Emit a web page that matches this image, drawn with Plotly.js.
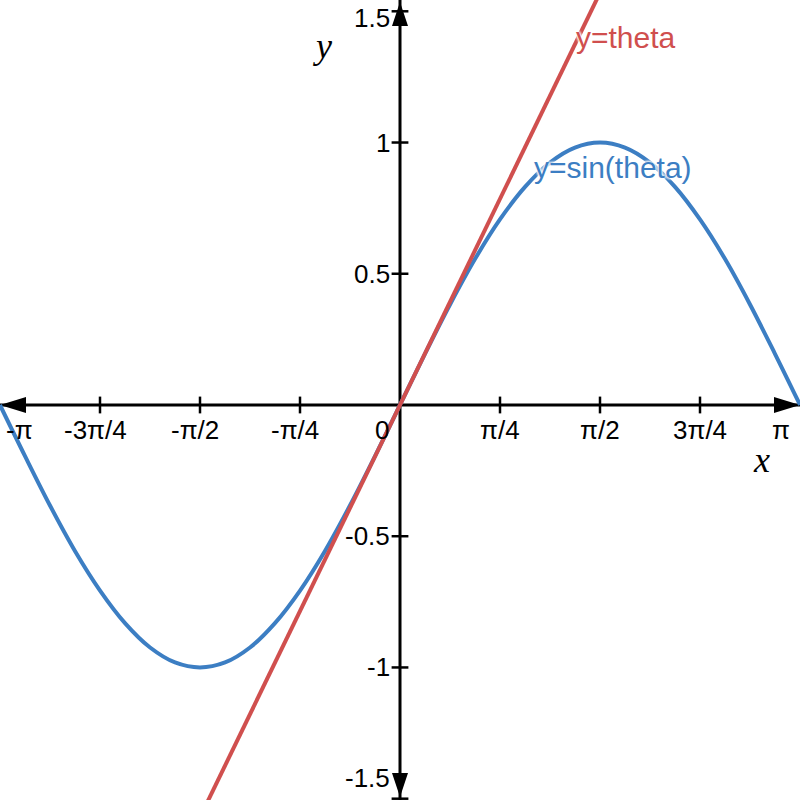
<!DOCTYPE html>
<html>
<head>
<meta charset="utf-8">
<script src="https://cdn.plot.ly/plotly-3.0.1.min.js"></script>
<style>html,body{margin:0;padding:0;background:#fff;}#chart{width:800px;height:800px;}</style>
</head>
<body>
<div id="chart"></div>
<script>
// theta samples (radians) and sin(theta) values
const thetaVals = [-3.142,-2.945,-2.749,-2.553,-2.356,-2.160,-1.963,-1.767,-1.571,-1.374,-1.178,-0.982,-0.785,-0.589,-0.393,-0.196,0,
                   0.196,0.393,0.589,0.785,0.982,1.178,1.374,1.571,1.767,1.963,2.160,2.356,2.553,2.749,2.945,3.142];
const sinVals = [0,-0.195,-0.383,-0.556,-0.707,-0.831,-0.924,-0.981,-1.0,-0.981,-0.924,-0.831,-0.707,-0.556,-0.383,-0.195,0,
                 0.195,0.383,0.556,0.707,0.831,0.924,0.981,1.0,0.981,0.924,0.831,0.707,0.556,0.383,0.195,0];
// y = theta line endpoints
const lineX = [-1.6, 1.6];
const lineY = [-1.6, 1.6];

// axis ranges
const xRange = [-3.1416, 3.1416];
const yRange = [-1.505, 1.543];

// tick values and labels
const xTickVals = [-3.1416,-2.3562,-1.5708,-0.7854,0,0.7854,1.5708,2.3562,3.1416];
const xTickText = ['-π','-3π/4','-π/2','-π/4','0','π/4','π/2','3π/4','π'];
const yTickVals = [-1.5,-1,-0.5,0.5,1,1.5];
const yTickText = ['-1.5','-1','-0.5','0.5','1','1.5'];

const seriesNames = ['y=theta','y=sin(theta)'];
const red = '#d04f4e';
const blue = '#3c7ec3';
const axisColor = '#000';
const font = 'Liberation Sans, Arial, sans-serif';

const xTickMarks = xTickVals.filter(v => v !== 0 && Math.abs(v) < 3);
const yTickMarks = yTickVals;

const traces = [
  {x: xTickMarks, y: xTickMarks.map(() => 0), mode: 'markers', type: 'scatter', hoverinfo: 'skip',
   marker: {symbol: 'line-ns', size: 12, line: {width: 2.5, color: axisColor}}},
  {x: yTickMarks.map(() => 0), y: yTickMarks, mode: 'markers', type: 'scatter', hoverinfo: 'skip',
   marker: {symbol: 'line-ew', size: 12, line: {width: 2.5, color: axisColor}}},
  {x: thetaVals, y: sinVals, mode: 'lines', type: 'scatter', name: seriesNames[1],
   line: {color: blue, width: 4, shape: 'spline'}},
  {x: lineX, y: lineY, mode: 'lines', type: 'scatter', name: seriesNames[0],
   line: {color: red, width: 4}}
];

const annotations = [];
xTickVals.forEach((v, i) => {
  const t = xTickText[i];
  const a = {x: v, y: 0, xref: 'x', yref: 'y', text: t, showarrow: false,
    font: {family: font, size: 26, color: '#000'}, yanchor: 'middle', yshift: -25, xanchor: 'center', xshift: 0};
  if (i === 0) { a.xanchor = 'left'; a.xshift = 4; }
  else if (i === xTickVals.length - 1) { a.xanchor = 'right'; a.xshift = -8; }
  else if (v === 0) { a.xanchor = 'right'; a.xshift = -9; }
  else if (v < 0) { a.xshift = -5; }
  annotations.push(a);
});
yTickVals.forEach((v, i) => {
  const a = {x: 0, y: v, xref: 'x', yref: 'y', text: yTickText[i], showarrow: false,
    font: {family: font, size: 26, color: '#000'}, xanchor: 'right', xshift: -8, yanchor: 'middle', yshift: 0};
  if (v === 1.5) a.yshift = -7;
  if (v === -1.5) a.yshift = 21;
  annotations.push(a);
});
// axis titles
annotations.push({xref: 'paper', yref: 'paper', x: 322/800, y: 1 - 46/800, text: 'y', showarrow: false,
  xanchor: 'center', yanchor: 'middle', font: {family: 'Liberation Serif, Times New Roman, serif', size: 36, style: 'italic', color: '#000'}});
annotations.push({xref: 'paper', yref: 'paper', x: 761/800, y: 1 - 460/800, text: 'x', showarrow: false,
  xanchor: 'center', yanchor: 'middle', font: {family: 'Liberation Serif, Times New Roman, serif', size: 36, style: 'italic', color: '#000'}});
// curve labels
const halo = '0 0 3px #fff, 0 0 3px #fff, 0 0 3px #fff, 0 0 3px #fff';
annotations.push({xref: 'paper', yref: 'paper', x: 574/800, y: 1 - 38/800, text: seriesNames[0], showarrow: false,
  xanchor: 'left', yanchor: 'middle', font: {family: font, size: 30, color: red, shadow: halo}});
annotations.push({xref: 'paper', yref: 'paper', x: 532/800, y: 1 - 168/800, text: seriesNames[1], showarrow: false,
  xanchor: 'left', yanchor: 'middle', font: {family: font, size: 30, color: blue, shadow: halo}});

const shapes = [
  {type: 'line', xref: 'x', yref: 'y', x0: xRange[0], x1: xRange[1], y0: 0, y1: 0, layer: 'below', line: {color: axisColor, width: 3}},
  {type: 'line', xref: 'x', yref: 'y', x0: 0, x1: 0, y0: yRange[0], y1: yRange[1], layer: 'below', line: {color: axisColor, width: 3}},
  {type: 'path', xref: 'x', yref: 'y', xsizemode: 'pixel', ysizemode: 'pixel', xanchor: xRange[0], yanchor: 0,
   path: 'M0,0 L26,8 L26,-8 Z', fillcolor: axisColor, line: {width: 0}, layer: 'below'},
  {type: 'path', xref: 'x', yref: 'y', xsizemode: 'pixel', ysizemode: 'pixel', xanchor: xRange[1], yanchor: 0,
   path: 'M0,0 L-26,8 L-26,-8 Z', fillcolor: axisColor, line: {width: 0}, layer: 'below'},
  {type: 'path', xref: 'x', yref: 'y', xsizemode: 'pixel', ysizemode: 'pixel', xanchor: 0, yanchor: yRange[1],
   path: 'M0,-2 L8,-26 L-8,-26 Z', fillcolor: axisColor, line: {width: 0}, layer: 'below'},
  {type: 'path', xref: 'x', yref: 'y', xsizemode: 'pixel', ysizemode: 'pixel', xanchor: 0, yanchor: yRange[0],
   path: 'M0,3 L8,27 L-8,27 Z', fillcolor: axisColor, line: {width: 0}, layer: 'below'}
];

const layout = {
  width: 800, height: 800,
  margin: {l: 0, r: 0, t: 0, b: 0},
  paper_bgcolor: '#fff', plot_bgcolor: '#fff',
  showlegend: false,
  xaxis: {range: xRange, visible: false, fixedrange: true},
  yaxis: {range: yRange, visible: false, fixedrange: true},
  shapes: shapes,
  annotations: annotations
};

Plotly.newPlot('chart', traces, layout, {displayModeBar: false, staticPlot: true});
</script>
</body>
</html>
